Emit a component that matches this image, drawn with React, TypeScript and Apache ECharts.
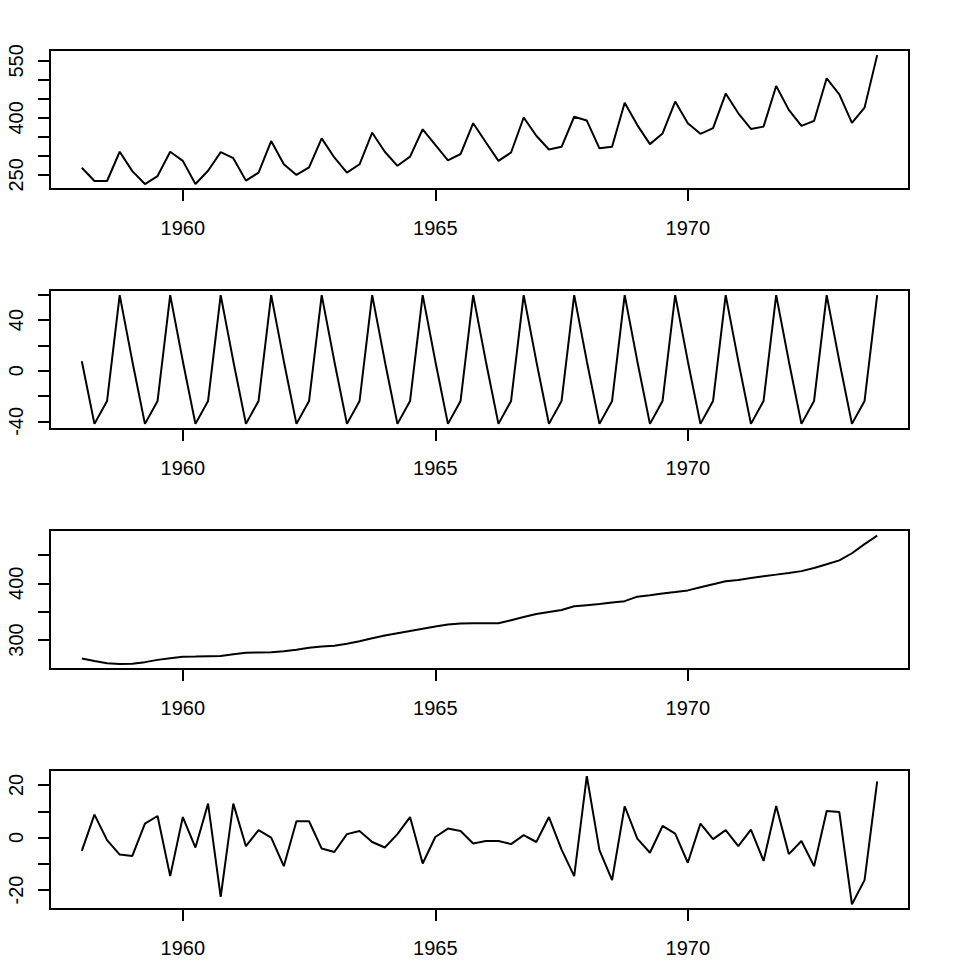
import React, { useEffect, useRef } from "react";
import * as echarts from "echarts";

// Quarterly series starting 1958 Q1
const startYear = 1958;
const frequency = 4;

const observed = [
  269, 234, 234, 311, 260, 226, 247, 311,
  287, 226, 261, 310, 294, 235, 256, 339,
  278, 250, 270, 346, 296, 256, 278, 361,
  311, 274, 298, 370, 329, 288, 305, 386,
  336, 287, 309, 401, 353, 317, 324, 403,
  393, 320, 324, 440, 381, 331, 359, 443,
  386, 358, 373, 464, 412, 371, 377, 484,
  421, 379, 392, 504, 462, 387, 427, 565,
];

const seasonal = [
  7.5, -42.0, -23.9, 59.7, 7.5, -42.0, -23.9, 59.7,
  7.5, -42.0, -23.9, 59.7, 7.5, -42.0, -23.9, 59.7,
  7.5, -42.0, -23.9, 59.7, 7.5, -42.0, -23.9, 59.7,
  7.5, -42.0, -23.9, 59.7, 7.5, -42.0, -23.9, 59.7,
  7.5, -42.0, -23.9, 59.7, 7.5, -42.0, -23.9, 59.7,
  7.5, -42.0, -23.9, 59.7, 7.5, -42.0, -23.9, 59.7,
  7.5, -42.0, -23.9, 59.7, 7.5, -42.0, -23.9, 59.7,
  7.5, -42.0, -23.9, 59.7, 7.5, -42.0, -23.9, 59.7,
];

const trend = [
  267.5, 263, 259, 257.7, 258, 261, 265, 268,
  270.6, 271, 271.5, 272, 275, 277.5, 278, 278.3,
  280, 283, 286.5, 288.5, 290, 293.5, 298, 303,
  308, 312, 316, 320, 324, 327.5, 329, 329.4,
  329.4, 329.5, 335, 340.5, 345.8, 349.5, 353, 359.5,
  361.5, 363.5, 366, 368.5, 376.5, 379, 382, 384.5,
  387.5, 393, 398.5, 403.5, 406, 409.5, 412.5, 415.3,
  418, 421.5, 427, 433.5, 440.5, 453, 469, 484,
];

const remainder = [
  -5.1, 8.7, -1.0, -6.5, -7.0, 5.3, 8.2, -14.7,
  7.8, -3.8, 12.9, -22.6, 12.9, -3.3, 2.8, 0.0,
  -10.9, 6.2, 6.2, -4.2, -5.5, 1.3, 2.5, -1.7,
  -3.8, 1.3, 7.8, -9.9, 0.2, 3.4, 2.5, -2.3,
  -1.3, -1.3, -2.5, 0.9, -1.7, 7.8, -4.6, -14.7,
  23.4, -4.8, -16.2, 11.9, -0.4, -5.8, 4.4, 1.5,
  -9.6, 5.3, -0.6, 2.8, -3.3, 3.0, -8.9, 12.0,
  -6.3, -1.3, -10.9, 10.1, 9.7, -25.4, -16.2, 21.4,
];

const xTicks = [1960, 1965, 1970];
const xRange = [1957.37, 1974.38];

const panels = [
  { values: observed, range: [213, 578.5], ticks: [250, 300, 350, 400, 450, 500, 550], labels: [250, 400, 550] },
  { values: seasonal, range: [-46.05, 63.7], ticks: [-40, -20, 0, 20, 40, 60], labels: [-40, 0, 40] },
  { values: trend, range: [248.9, 494], ticks: [300, 350, 400, 450], labels: [300, 400] },
  { values: remainder, range: [-27.2, 25.7], ticks: [-20, -10, 0, 10, 20], labels: [-20, 0, 20] },
];

const FONT = "'Liberation Sans', Arial, sans-serif";

export default function App() {
  const ref = useRef<HTMLDivElement>(null);

  useEffect(() => {
    document.body.style.margin = "0";
    if (!ref.current) return;
    const chart = echarts.init(ref.current, undefined, { renderer: "svg" });
    const tops = [50, 290, 530, 770];
    const grid = tops.map((t) => ({
      left: 50,
      top: t,
      width: 859,
      height: 139,
      show: true,
      borderColor: "#000",
      borderWidth: 2,
      backgroundColor: "transparent",
    }));
    const xAxis = tops.map((_, k) => ({
      type: "value",
      gridIndex: k,
      min: xRange[0],
      max: xRange[1],
      axisLine: { show: false, onZero: false },
      splitLine: { show: false },
      axisTick: {
        show: true,
        length: 12,
        customValues: xTicks,
        lineStyle: { color: "#000", width: 2 },
      },
      axisLabel: {
        show: true,
        customValues: xTicks,
        margin: 29,
        fontSize: 20,
        fontFamily: FONT,
        color: "#000",
        formatter: (v: number) => String(Math.round(v)),
      },
    }));
    const yAxis = panels.map((p, k) => ({
      type: "value",
      gridIndex: k,
      min: p.range[0],
      max: p.range[1],
      axisLine: { show: false, onZero: false },
      splitLine: { show: false },
      axisTick: {
        show: true,
        length: 12,
        customValues: p.ticks,
        lineStyle: { color: "#000", width: 2 },
      },
      axisLabel: {
        show: true,
        customValues: p.labels,
        rotate: 90,
        margin: 24,
        fontSize: 20,
        fontFamily: FONT,
        color: "#000",
        formatter: (v: number) => String(Math.round(v)),
      },
    }));
    const series = panels.map((p, k) => ({
      type: "line",
      xAxisIndex: k,
      yAxisIndex: k,
      data: p.values.map((v, i) => [startYear + i / frequency, v]),
      showSymbol: false,
      symbol: "none",
      lineStyle: { color: "#000", width: 2 },
    }));
    chart.setOption({
      animation: false,
      backgroundColor: "#fff",
      grid,
      xAxis,
      yAxis,
      series,
    });
    return () => chart.dispose();
  }, []);

  return (
    <div
      ref={ref}
      style={{ width: 960, height: 960, position: "absolute", left: 0, top: 0 }}
    />
  );
}
